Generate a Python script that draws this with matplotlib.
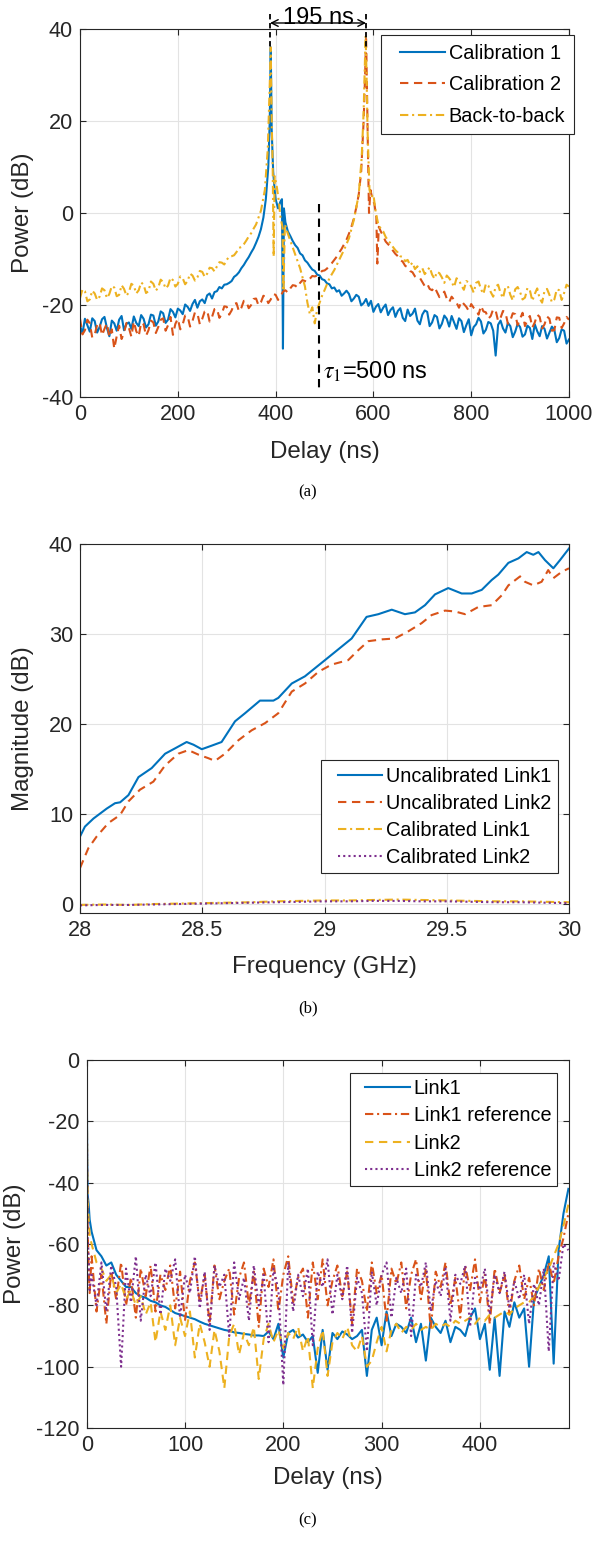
import numpy as np
import matplotlib
matplotlib.use("Agg")
import matplotlib.pyplot as plt
from matplotlib.lines import Line2D
from matplotlib.legend_handler import HandlerLine2D

plt.rcParams['font.family'] = ['Liberation Sans', 'DejaVu Sans']
plt.rcParams['mathtext.fontset'] = 'stix'
plt.rcParams['axes.unicode_minus'] = False

# MATLAB default colours
C_BLUE, C_ORANGE, C_YELLOW, C_PURPLE = '#0072BD', '#D95319', '#EDB120', '#7E2F8E'

# ---------------- panel (a): delay profiles ----------------
cal1_delay = list(range(0, 371, 5)) + [375, 380, 385, 388, 390, 392, 395, 398, 400, 405, 410, 413, 415, 417, 420, 425] \
    + list(range(430, 1001, 5))
cal1_power = [-24.5, -26.2, -23, -24.4, -25.8, -22.9, -23.5, -26, -24.8, -23.1,
              -22.6, -25, -26.8, -23.4, -24, -25.6, -23.2, -22.4, -25.5, -24.1,
              -23.8, -25.2, -22.5, -23.9, -24.6, -22.2, -23, -24.9, -24.2, -22.1,
              -22.3, -24.5, -23.6, -21.4, -21.8, -23.9, -23.2, -20.9, -21.5, -22.7,
              -20.8, -21.2, -22, -19.9, -20.4, -21.3, -19.8, -18.9, -20.6, -19.2,
              -18.8, -19.6, -17.9, -17.5, -18.6, -17.2, -17, -16.1, -16.4, -15.6,
              -15.5, -15.2, -14.8, -13.9, -13.5, -12.9, -12, -11.3, -10.4, -9.6,
              -8.6, -7.7, -6.5, -5.2, -3.5,
              -1, 3, 10, 20, 36, 18, 9, 5, 3, 1, 2.5, 3, -29.5, 1, -2, -4,
              -5, -6.1, -7, -7.6, -8.8, -9.2, -10.3, -10.8, -11.6, -12.3,
              -12.6, -13.4, -13.6, -14.4, -14.6, -15.3, -15.5, -16.4, -16.2, -17.1,
              -16.8, -18, -17.5, -16.9, -17.6, -19.2, -18.6, -17.8, -18.2, -20.1,
              -19.6, -18.7, -20.2, -19.1, -21.5, -20.4, -19.8, -21.6, -20.6, -19.9,
              -22.2, -21.1, -20.5, -22.6, -21.3, -20.7, -22.8, -23.5, -21, -22.4,
              -21.9, -20.8, -23.4, -24.2, -22.1, -21.2, -21.5, -24.6, -23.8, -22.2,
              -22.6, -25.1, -24.1, -22.3, -23, -24.7, -22.4, -23.8, -25.2, -22.9,
              -23.5, -25.9, -24.4, -23.1, -26.6, -24.8, -24.2, -22.8, -23.6, -26.2,
              -25.4, -23.7, -24, -25.6, -31, -24.3, -23.4, -25.1, -26, -23.9,
              -24.6, -27, -25.8, -24.1, -24.8, -26.9, -26.4, -24.5, -25, -27.4,
              -24.2, -25.7, -26.8, -24.6, -25.2, -27.3, -26, -24.7, -25.4, -28.1,
              -27.2, -25.3, -25.6, -28.4, -27.5]

cal2_delay = list(range(0, 571, 5)) + [575, 580, 583, 585, 587, 589, 591, 594, 598, 602, 606, 608, 611, 615] \
    + list(range(620, 1001, 5))
cal2_power = [-23, -26.4, -25.5, -23.2, -24, -27.1, -26.5, -24.3, -23.8, -26.6,
              -25.2, -24, -27, -25.3, -29.5, -26.8, -24.5, -27.4, -26, -23.9,
              -25, -26.9, -23.6, -25.7, -26.8, -23.8, -24.2, -26.7, -25.5, -23.4,
              -23.8, -26.1, -24.8, -23.2, -22.9, -25.6, -24.4, -22.6, -26.5, -24.1,
              -23, -25.3, -24.2, -22.3, -22.4, -24.7, -23.5, -21.6, -21.8, -24.2,
              -23, -21.4, -21.2, -23.6, -22.6, -20.9, -20.8, -22.8, -21.9, -20.3,
              -20.4, -22.1, -21.2, -19.8, -19.6, -21.4, -20.6, -19.1, -19.2, -20.7,
              -20, -18.7, -18.6, -20.1, -19.4, -18, -18.2, -19.6, -18.8, -17.6,
              -17.8, -18.9, -18.2, -17.1, -16.8, -17.3, -16.4, -15.7, -15.8, -16.2,
              -15.2, -14.6, -14.8, -15, -14.3, -13.7, -13.8, -13.6, -13.2, -12.6,
              -12.5, -12.1, -11.4, -10.9, -10.2, -9.5, -8.6, -7.8, -6.8, -5.8,
              -4.5, -3, -1.2, 1.2, 4,
              9, 20, 30, 38.5, 26, 12, 0, 5, 3, 2, -1, -11, -3, -4,
              -5, -6.2, -6.8, -7.3, -8.2, -8.9, -9.4, -10.2, -10.6, -11.5,
              -11.8, -12.6, -12.9, -13.8, -14.2, -14.1, -15, -15.9, -15.4, -16.5,
              -16.8, -16.1, -17.2, -18.3, -17.8, -17.1, -18.6, -19.4, -18.2, -18.9,
              -19.5, -20.6, -19.2, -19.8, -20.4, -21.3, -19.8, -20.6, -21, -22.1,
              -20.2, -21.4, -21.6, -23, -22.4, -20.9, -21.2, -23.5, -22.8, -21.3,
              -21.6, -24.1, -23.4, -21.8, -22, -24.4, -23, -21.7, -24.6, -23.2,
              -22.4, -24.9, -23.8, -22.1, -22.6, -25.1, -24.2, -22.5, -23, -25.6,
              -25.5, -22.7, -22.8, -25, -24, -22.6, -23.2]

b2b_delay = list(range(0, 371, 5)) + [378, 384, 388, 390, 392, 394, 396, 398, 402, 406, 410, 414, 416, 419, 425] \
    + [430, 440, 450, 460, 465, 470, 475, 480, 485, 490, 495, 500] + list(range(510, 571, 10)) \
    + [576, 580, 584, 586, 588, 592, 596, 600, 605, 610, 615] + list(range(620, 1001, 5))
b2b_power = [-18.5, -16.6, -17, -19.2, -18.8, -16.9, -17.5, -18.9, -18.2, -16.4,
             -16.8, -18.5, -17.6, -15.9, -16.2, -18.1, -17.8, -15.7, -16.5, -18,
             -17.2, -15.4, -15.8, -17.5, -16.8, -15.1, -15.6, -17.4, -17, -14.9,
             -15.4, -16.9, -16.2, -14.5, -15, -16.4, -15.8, -14.1, -14.6, -16,
             -15.4, -13.8, -14.2, -15.5, -14.8, -13.2, -13.6, -14.7, -14, -12.6,
             -12.8, -13.9, -13.2, -11.9, -12, -12.7, -11.6, -10.7, -10.8, -11.2,
             -10.2, -9.5, -9.4, -9.2, -8.5, -7.6, -7.4, -6.8, -6, -5.1,
             -4.4, -3.4, -2.5, -1, 0.5,
             5, 14, 28, 36, 20, 10, -9.5, 8, 6, 3, -1, -3, -17, -2.5, -4.5,
             -6, -9, -12, -16, -19.5, -22, -20.5, -24, -21, -19.5, -18, -16.8,
             -14.2, -12.4, -10.2, -8, -5.5, -1.5, 4,
             12, 22, 38.5, 30, 18, 5, 3.5, 4, 0, -2.5, -3.4,
             -4, -5.2, -6, -6.6, -7.4, -8.1, -8.6, -9.4, -9.6, -10.5,
             -10.2, -11.4, -10.8, -12.2, -11.6, -12.8, -12, -13.3, -12.6, -11.8,
             -13.4, -14.3, -12.8, -13.1, -14, -15.2, -13.6, -14.2, -15, -16.1,
             -14.2, -14.6, -15.8, -16.7, -14.8, -15.1, -16, -17.3, -15.2, -14.9,
             -16.6, -17.6, -15.4, -15.8, -17.2, -18.2, -16, -15.6, -17.4, -18.5,
             -16.2, -15.9, -17.8, -19, -16.6, -16.1, -17.2, -18.8, -18.4, -16.3,
             -16.8, -19.1, -17.6, -16.4, -18.6, -19.5, -16.9, -16.5, -17.8, -19.4,
             -18.8, -16.6, -16.8, -18.9, -17.4, -15.6, -16]

peak1_delay, peak2_delay = 388.5, 585
tau1_line = 489

# ---------------- panel (b): frequency responses ----------------
unc1_freq = [28.0, 28.02, 28.055, 28.109, 28.143, 28.164, 28.198, 28.239, 28.293, 28.348,
             28.389, 28.436, 28.464, 28.498, 28.539, 28.579, 28.634, 28.675, 28.736, 28.791,
             28.811, 28.866, 28.92, 28.961, 29.002, 29.043, 29.111, 29.172, 29.22, 29.275,
             29.329, 29.37, 29.411, 29.452, 29.506, 29.561, 29.602, 29.643, 29.684, 29.711,
             29.752, 29.793, 29.827, 29.854, 29.875, 29.902, 29.936, 29.963, 30.0]
unc1_mag = [7.5, 8.6, 9.5, 10.6, 11.2, 11.3, 12.1, 14.1, 15.1, 16.7,
            17.3, 18.0, 17.7, 17.2, 17.6, 18.0, 20.3, 21.2, 22.6, 22.6,
            22.9, 24.5, 25.3, 26.2, 27.1, 28.0, 29.5, 31.9, 32.2, 32.7,
            32.2, 32.4, 33.2, 34.4, 35.1, 34.5, 34.5, 34.9, 36.0, 36.6,
            37.9, 38.4, 39.1, 38.8, 39.1, 38.2, 37.3, 38.2, 39.5]
unc2_freq = [28.0, 28.034, 28.068, 28.116, 28.164, 28.198, 28.245, 28.3, 28.348, 28.402,
             28.443, 28.484, 28.525, 28.552, 28.593, 28.648, 28.702, 28.757, 28.811, 28.866,
             28.92, 28.975, 29.029, 29.097, 29.138, 29.179, 29.234, 29.288, 29.343, 29.397,
             29.438, 29.493, 29.534, 29.575, 29.629, 29.684, 29.725, 29.752, 29.8, 29.82,
             29.854, 29.888, 29.915, 29.936, 29.97, 30.0]
unc2_mag = [4.0, 6.2, 7.5, 9.0, 9.9, 11.4, 12.7, 13.6, 15.4, 16.7,
            17.1, 16.6, 16.2, 15.9, 16.7, 18.2, 19.3, 20.1, 21.2, 23.6,
            24.5, 25.8, 26.6, 27.1, 28.2, 29.2, 29.4, 29.5, 30.3, 31.2,
            32.1, 32.6, 32.5, 32.2, 33.0, 33.2, 34.3, 35.4, 36.4, 35.8,
            35.4, 35.8, 37.1, 36.2, 36.9, 37.3]
cal_freq = [28.0, 28.1, 28.2, 28.3, 28.4, 28.5, 28.6, 28.7, 28.8, 28.9, 29.0,
            29.1, 29.2, 29.3, 29.4, 29.5, 29.6, 29.7, 29.8, 29.9, 30.0]
cal1_mag = [-0.1, -0.05, -0.1, 0.0, 0.05, 0.1, 0.15, 0.2, 0.3, 0.35, 0.4,
            0.4, 0.45, 0.5, 0.45, 0.4, 0.35, 0.3, 0.3, 0.25, 0.2]
cal2_mag = [-0.15, -0.1, -0.1, -0.05, 0.0, 0.05, 0.1, 0.15, 0.2, 0.25, 0.3,
            0.3, 0.35, 0.35, 0.3, 0.3, 0.25, 0.2, 0.2, 0.15, 0.1]

# ---------------- panel (c): link delay profiles ----------------
delay_c = [0, 0.5, 1, 2, 3] + list(range(5, 491, 5))
link1 = [0, -30, -44, -47, -52,
         -56, -62, -64, -67, -66, -70, -72, -74, -74, -76,
         -77, -77.5, -78.5, -79, -80, -80.5, -81.5, -82.5, -83, -83.5,
         -84, -84.5, -85.3, -86, -86.5, -87, -87.5, -88, -88.3, -88.8,
         -89, -89.3, -89.5, -89.8, -89.8, -90, -88.5, -91, -86, -97,
         -89, -88, -90.5, -89.5, -92, -90, -102, -88, -101, -89,
         -91, -88.5, -89.5, -91, -90, -88, -103, -88, -84, -93,
         -82, -90, -86, -87, -89, -84, -92, -86, -98, -84,
         -87, -89, -85, -92, -87, -88, -90, -84, -81, -91,
         -86, -101, -84, -103, -82, -87, -79, -84, -81, -100,
         -78, -74, -70, -64, -99, -62, -50, -42]
link1_ref = [0, -40, -55, -68, -76,
             -64, -82, -70, -86, -69, -78, -66, -80, -71, -84,
             -68, -77, -67, -82, -70, -75, -67, -81, -69, -85,
             -72, -66, -79, -70, -86, -67, -78, -72, -68, -83,
             -71, -66, -80, -69, -87, -68, -74, -65, -82, -70,
             -64, -79, -71, -68, -84, -66, -78, -65, -80, -72,
             -67, -77, -69, -86, -68, -72, -82, -66, -76, -70,
             -85, -68, -73, -66, -81, -70, -65, -78, -68, -88,
             -69, -74, -66, -80, -71, -84, -67, -75, -65, -79,
             -70, -86, -68, -76, -70, -83, -72, -67, -78, -71,
             -80, -68, -75, -66, -73, -64, -58, -50]
link2 = [0, -35, -46, -52, -57,
         -60, -66, -68, -72, -70, -76, -73, -78, -75, -80,
         -77, -83, -79, -92, -82, -88, -80, -93, -84, -90,
         -82, -97, -86, -92, -100, -88, -95, -107, -90, -86,
         -96, -89, -93, -87, -104, -91, -86, -92, -88, -94,
         -89, -91, -87, -95, -90, -107, -94, -88, -103, -92,
         -89, -91, -87, -93, -95, -90, -100, -98, -92, -87,
         -95, -88, -86, -89, -87, -88, -86, -88, -87, -88,
         -86, -87, -86, -87, -85, -86, -85, -84, -86, -84,
         -85, -83, -84, -83, -82, -83, -81, -80, -79, -79,
         -77, -74, -71, -68, -64, -60, -54, -47]
link2_ref = [0, -40, -58, -64, -75,
             -70, -80, -66, -82, -67, -74, -100, -68, -79, -64,
             -85, -70, -77, -66, -83, -68, -72, -65, -84, -70,
             -76, -64, -81, -69, -88, -67, -74, -70, -90, -66,
             -78, -71, -85, -67, -80, -70, -92, -68, -75, -106,
             -66, -82, -70, -77, -68, -93, -69, -74, -65, -83,
             -70, -78, -67, -89, -71, -76, -95, -69, -80, -70,
             -66, -84, -71, -76, -68, -90, -70, -74, -66, -82,
             -72, -77, -68, -85, -70, -73, -67, -87, -71, -75,
             -68, -83, -70, -76, -69, -81, -72, -78, -70, -86,
             -73, -80, -68, -95, -66, -72, -60, -62]

TICK_FS = 15.6
LABEL_FS = 17.4
LEG_FS = 14.3
NOTE_FS = 17
DASH = (4, 2.7)
DASHDOT = (4, 1.8, 1, 1.8)
DOT = (1, 1.5)


def style_axes(ax):
    ax.grid(True, color='#e3e3e3', lw=0.8)
    ax.set_axisbelow(True)
    for s in ax.spines.values():
        s.set_color('#262626')
        s.set_linewidth(0.8)
    ax.tick_params(direction='in', length=4, width=0.8, top=True, right=True,
                   labelsize=TICK_FS, colors='#262626', pad=5)


def make_legend(ax, spacing, pad, **kw):
    leg = ax.legend(fontsize=LEG_FS, frameon=True, fancybox=False, framealpha=1,
                    edgecolor='#262626', handlelength=2.75, handletextpad=0.2,
                    borderpad=pad, labelspacing=spacing, borderaxespad=0,
                    handler_map={Line2D: HandlerLine2D(xpad=0.5)}, **kw)
    leg.get_frame().set_linewidth(0.8)
    return leg


fig = plt.figure(figsize=(5.95, 15.41), dpi=100)

# ---- (a)
ax = fig.add_axes([0.1345, 0.7424, 0.8218, 0.2388])
ax.plot(cal1_delay, cal1_power, color=C_BLUE, lw=1.5, label='Calibration 1')
ax.plot(cal2_delay, cal2_power, color=C_ORANGE, lw=1.5, dashes=DASH, label='Calibration 2')
ax.plot(b2b_delay, b2b_power, color=C_YELLOW, lw=1.5, dashes=DASHDOT, label='Back-to-back')
ax.set_xlim(0, 1000)
ax.set_ylim(-40, 40)
ax.set_xticks(range(0, 1001, 200))
ax.set_yticks(range(-40, 41, 20))
style_axes(ax)
ax.set_xlabel('Delay (ns)', fontsize=LABEL_FS, color='#262626')
ax.set_ylabel('Power (dB)', fontsize=LABEL_FS, color='#262626')
ax.xaxis.set_label_coords(0.5, -0.12)
ax.yaxis.set_label_coords(-0.094, 0.5)
for xd in (peak1_delay, peak2_delay):
    ax.plot([xd, xd], [43.3, 35.5], color='k', lw=1.3, dashes=(3, 2), clip_on=False)
ax.annotate('', xy=(peak1_delay, 41.3), xytext=(peak2_delay, 41.3),
            arrowprops=dict(arrowstyle='<->', color='k', lw=1.0, shrinkA=0, shrinkB=0,
                            mutation_scale=12), annotation_clip=False)
ax.text((peak1_delay + peak2_delay) / 2, 41.1, '195 ns', ha='center', va='baseline',
        fontsize=NOTE_FS, color='k', clip_on=False)
ax.plot([tau1_line, tau1_line], [2, -38.5], color='k', lw=1.5, dashes=(4, 3))
ax.text(497, -34.6, r'$\tau_1$=500 ns', ha='left', va='center', fontsize=NOTE_FS, color='k')
make_legend(ax, 0.62, 0.45, loc='upper right', bbox_to_anchor=(1.0102, 0.9837))

# ---- (b)
ax = fig.add_axes([0.1345, 0.4075, 0.8218, 0.2395])
ax.plot(unc1_freq, unc1_mag, color=C_BLUE, lw=1.5, label='Uncalibrated Link1')
ax.plot(unc2_freq, unc2_mag, color=C_ORANGE, lw=1.5, dashes=DASH, label='Uncalibrated Link2')
ax.plot(cal_freq, cal1_mag, color=C_YELLOW, lw=1.5, dashes=DASHDOT, label='Calibrated Link1')
ax.plot(cal_freq, cal2_mag, color=C_PURPLE, lw=1.5, dashes=DOT, label='Calibrated Link2')
ax.set_xlim(28, 30)
ax.set_ylim(-1, 40)
ax.set_xticks([28, 28.5, 29, 29.5, 30])
ax.set_xticklabels(['28', '28.5', '29', '29.5', '30'])
ax.set_yticks(range(0, 41, 10))
style_axes(ax)
ax.set_xlabel('Frequency (GHz)', fontsize=LABEL_FS, color='#262626')
ax.set_ylabel('Magnitude (dB)', fontsize=LABEL_FS, color='#262626')
ax.xaxis.set_label_coords(0.5, -0.117)
ax.yaxis.set_label_coords(-0.094, 0.5)
make_legend(ax, 0.4, 0.32, loc='lower right', bbox_to_anchor=(0.9775, 0.1084))

# ---- (c)
ax = fig.add_axes([0.1457, 0.0733, 0.8106, 0.2388])
ax.plot(delay_c, link1, color=C_BLUE, lw=1.5, label='Link1')
ax.plot(delay_c, link1_ref, color=C_ORANGE, lw=1.5, dashes=DASHDOT, label='Link1 reference')
ax.plot(delay_c, link2, color=C_YELLOW, lw=1.5, dashes=DASH, label='Link2')
ax.plot(delay_c, link2_ref, color=C_PURPLE, lw=1.5, dashes=DOT, label='Link2 reference')
ax.set_xlim(0, 490.6)
ax.set_ylim(-120, 0)
ax.set_xticks(range(0, 401, 100))
ax.set_yticks(range(-120, 1, 20))
style_axes(ax)
ax.set_xlabel('Delay (ns)', fontsize=LABEL_FS, color='#262626')
ax.set_ylabel('Power (dB)', fontsize=LABEL_FS, color='#262626')
ax.xaxis.set_label_coords(0.5, -0.106)
ax.yaxis.set_label_coords(-0.126, 0.5)
make_legend(ax, 0.43, 0.28, loc='upper right', bbox_to_anchor=(0.9751, 0.9647))

for ytxt, cap in ((0.6807, '(a)'), (0.3459, '(b)'), (0.0136, '(c)')):
    fig.text(0.5176, ytxt, cap, ha='center', va='center', fontsize=12,
             family=['Liberation Serif', 'DejaVu Serif'])

fig.savefig('out.png', dpi=100)
